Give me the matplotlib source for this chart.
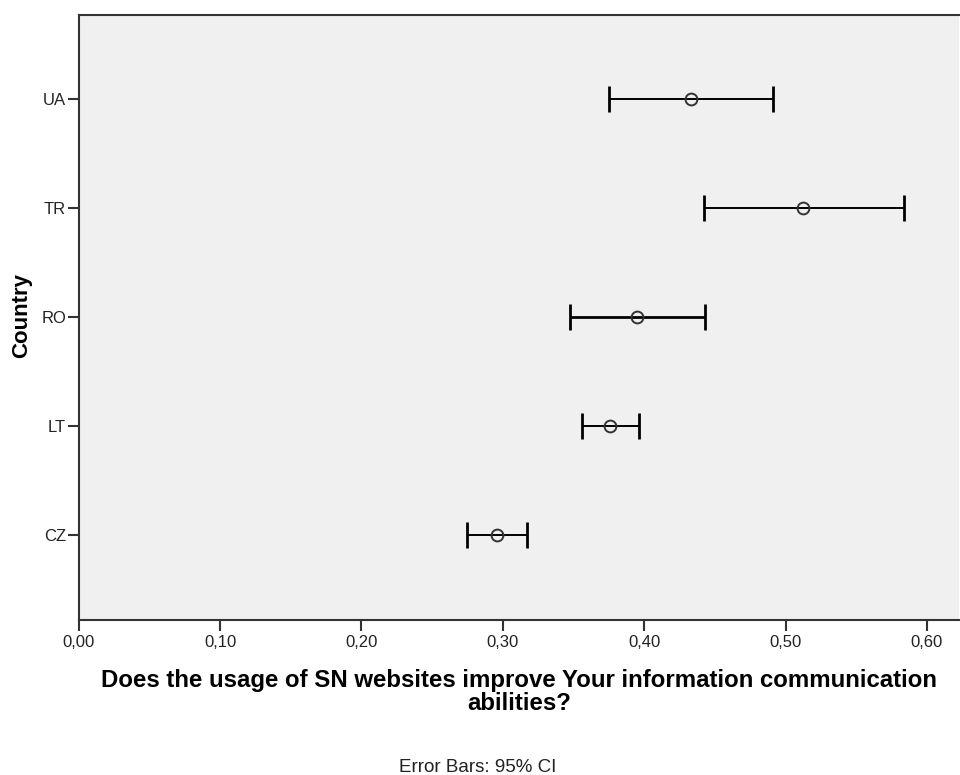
import matplotlib
matplotlib.use("Agg")
import matplotlib.pyplot as plt

countries = ["CZ", "LT", "RO", "TR", "UA"]
means = [0.2961, 0.3758, 0.3951, 0.5125, 0.4329]
lower = [0.2749, 0.3558, 0.3475, 0.4423, 0.3753]
upper = [0.3173, 0.3965, 0.4430, 0.5835, 0.4909]
xticks = [0.0, 0.1, 0.2, 0.3, 0.4, 0.5, 0.6]
xticklabels = ["0,00", "0,10", "0,20", "0,30", "0,40", "0,50", "0,60"]

plt.rcParams['font.family'] = ['Liberation Sans', 'DejaVu Sans']

W, H = 960, 775
fig = plt.figure(figsize=(W/100, H/100), dpi=100)
ax = fig.add_axes([78.7/W, (H-620)/H, (959-78.7)/W, (620-15.3)/H])
ax.set_facecolor('#F0F0F0')

ypos = list(range(len(countries)))
for i, (m, lo, hi) in enumerate(zip(means, lower, upper)):
    lw = 2.0 if countries[i] == "RO" else 1.4
    ax.errorbar([m], [ypos[i]], xerr=[[m - lo], [hi - m]], fmt='none',
                ecolor='black', elinewidth=lw, capsize=9.5, capthick=2.0, zorder=2)
    ax.plot([m], [ypos[i]], marker='o', markersize=8.5, markerfacecolor='none',
            markeredgecolor='#333333', markeredgewidth=1.4, linestyle='none', zorder=3)

ax.set_xlim(0, (959-78.7)/1413.8)
ax.set_ylim(-0.777, 4.77)
ax.set_xticks(xticks)
ax.set_xticklabels(xticklabels, fontsize=12)
ax.set_yticks(ypos)
ax.set_yticklabels(countries, fontsize=12)
ax.tick_params(axis='y', length=8, width=1.5, colors='#333333', labelcolor='#222222', pad=1)
ax.tick_params(axis='x', length=8, width=1.5, colors='#333333', labelcolor='#222222', pad=3)

for s in ['left', 'bottom', 'top']:
    ax.spines[s].set_color('#333333')
    ax.spines[s].set_linewidth(1.5)
ax.spines['right'].set_visible(False)

fig.text(22/W, 1-315/H, "Country", rotation=90, ha='center', va='center',
         fontsize=16, fontweight='bold')
xc = (78.7+959)/2/W
fig.text(xc, 1-680/H, "Does the usage of SN websites improve Your information communication",
         ha='center', va='center', fontsize=17.3, fontweight='bold')
fig.text(xc, 1-703/H, "abilities?",
         ha='center', va='center', fontsize=17.3, fontweight='bold')
fig.text(478/W, 1-767/H, "Error Bars: 95% CI", ha='center', va='center', fontsize=13.5, color='#222222')

fig.savefig("out.png", dpi=100)
